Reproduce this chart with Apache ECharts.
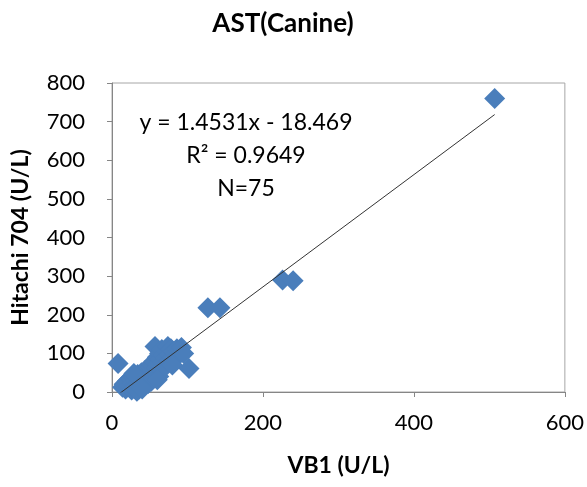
<!DOCTYPE html>
<html>
<head>
<meta charset="utf-8">
<title>AST(Canine)</title>
<script src="https://cdn.jsdelivr.net/npm/echarts@6/dist/echarts.min.js"></script>
<style>
  html, body { margin: 0; padding: 0; background: #fff; }
  #chart { width: 587px; height: 487px; }
</style>
</head>
<body>
<div id="chart"></div>
<script>
// VB1 vs Hitachi 704, AST 犬 (U/L)
const vb1 = [
  8, 102, 127, 143, 226, 240, 507,
  14, 16, 18, 20, 22, 24, 25, 27, 28, 30, 31, 32, 34, 35, 36, 38, 39, 40,
  41, 42, 43, 44, 45, 46, 47, 48, 49, 50, 51, 52, 53, 54, 55, 56, 57, 58,
  59, 60, 61, 62, 63, 64, 65, 66, 67, 68, 70, 71, 72, 74, 75, 76, 78, 80,
  82, 84, 86, 88, 90, 92, 95, 26, 33, 37, 40, 29, 60, 80
];
const hitachi = [
  74, 61, 218, 218, 290, 288, 760,
  12, 20, 8, 28, 15, 35, 10, 22, 40, 18, 30, 12, 45, 25, 8, 35, 50, 20,
  15, 40, 55, 30, 22, 48, 60, 22, 38, 65, 45, 28, 70, 55, 35, 80, 118, 62,
  48, 90, 72, 40, 100, 85, 58, 110, 76, 95, 65, 88, 105, 118, 80, 98, 112, 90,
  105, 100, 112, 95, 108, 115, 100, 5, 2, 15, 8, 48, 32, 70
];
const xTicks = [0, 200, 400, 600];
const yTicks = [0, 100, 200, 300, 400, 500, 600, 700, 800];

// 趋势线 y = 1.4531x - 18.469
const slope = 1.4531;
const intercept = -18.469;
const rSquared = 0.9649;

const points = vb1.map((x, i) => [x, hitachi[i]]);
const xMin = Math.min(...vb1);
const xMax = Math.max(...vb1);
const trend = [xMin, xMax].map(x => [x, slope * x + intercept]);

const font = 'Lato, "Open Sans", sans-serif';
const myChart = echarts.init(document.getElementById('chart'));

myChart.setOption({
  animation: false,
  textStyle: { fontFamily: font },
  title: {
    text: 'AST(Canine)',
    left: 278,
    top: 6,
    textAlign: 'center',
    textStyle: { fontFamily: font, fontSize: 26, fontWeight: 'bold', color: '#000' }
  },
  grid: {
    left: 112, right: 21, top: 83, bottom: 95,
    show: true,
    borderColor: '#a6a6a6',
    borderWidth: 1
  },
  xAxis: {
    type: 'value',
    min: xTicks[0],
    max: xTicks[xTicks.length - 1],
    interval: xTicks[1] - xTicks[0],
    name: 'VB1 (U/L)',
    nameLocation: 'middle',
    nameGap: 62,
    nameTextStyle: { fontFamily: font, fontSize: 23, fontWeight: 'bold', color: '#000' },
    axisLine: { lineStyle: { color: '#868686' } },
    axisTick: { length: 5, lineStyle: { color: '#868686' } },
    axisLabel: { fontSize: 22, color: '#000', margin: 20 },
    splitLine: { show: false }
  },
  yAxis: {
    type: 'value',
    min: yTicks[0],
    max: yTicks[yTicks.length - 1],
    interval: yTicks[1] - yTicks[0],
    name: 'Hitachi 704 (U/L)',
    nameLocation: 'middle',
    nameGap: 80,
    nameTextStyle: { fontFamily: font, fontSize: 23, fontWeight: 'bold', color: '#000' },
    axisLine: { show: true, lineStyle: { color: '#868686' } },
    axisTick: { show: true, length: 5, lineStyle: { color: '#868686' } },
    axisLabel: { fontSize: 22, color: '#000', margin: 27 },
    splitLine: { show: false }
  },
  graphic: [
    {
      type: 'text',
      x: 246,
      y: 106,
      style: {
        text: 'y = 1.4531x - 18.469\nR² = ' + rSquared + '\nN=' + points.length,
        font: '23px ' + font,
        fill: '#000',
        align: 'center',
        textAlign: 'center',
        lineHeight: 33
      },
      z: 10
    }
  ],
  series: [
    {
      type: 'scatter',
      data: points,
      symbol: 'diamond',
      symbolSize: 21,
      itemStyle: { color: '#4a7ebb', opacity: 1 }
    },
    {
      type: 'line',
      data: trend,
      symbol: 'none',
      silent: true,
      lineStyle: { color: '#333', width: 1 },
      z: 3
    }
  ]
});
</script>
</body>
</html>
